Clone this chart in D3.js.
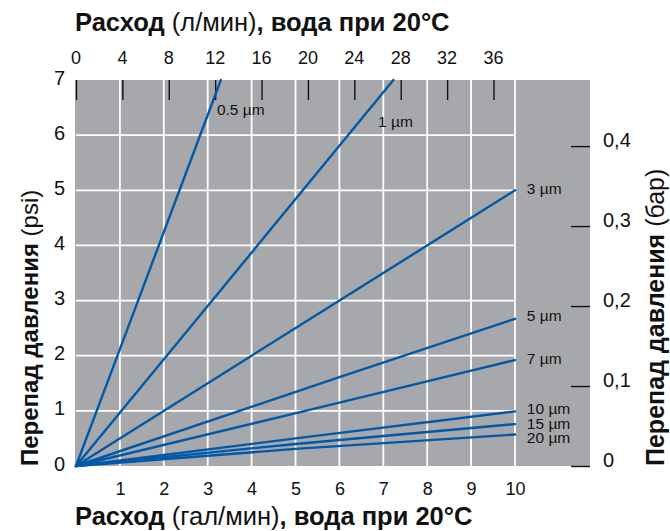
<!DOCTYPE html>
<html>
<head>
<meta charset="utf-8">
<script src="https://cdnjs.cloudflare.com/ajax/libs/d3/7.8.5/d3.min.js"></script>
<style>
  body { margin: 0; background: #fff; }
  text { font-family: "Liberation Sans", Arial, sans-serif; }
</style>
</head>
<body>
<svg id="canvas"></svg>
<script>
// data (flow in US gal/min, pressure drop in psi)
let ratings = ["0.5", "1", "3", "5", "7", "10", "15", "20"];
let curve05 = [[0, 0], [1, 2.12], [3.3, 7]];
let curve1 = [[0, 0], [3, 2.9], [7.23, 7]];
let curve3 = [[0, 0], [4, 2.0], [10, 5.0]];
let curve5 = [[0, 0], [6, 1.61], [10, 2.67]];
let curve7 = [[0, 0], [6, 1.15], [10, 1.92]];
let curve10 = [[0, 0], [5, 0.5], [10, 0.99]];
let curve15 = [[0, 0], [5, 0.4], [10, 0.76]];
let curve20 = [[0, 0], [5, 0.31], [10, 0.57]];
let curves = [curve05, curve1, curve3, curve5, curve7, curve10, curve15, curve20];

let galTicks = [1, 2, 3, 4, 5, 6, 7, 8, 9, 10];
let lpmTicks = [0, 4, 8, 12, 16, 20, 24, 28, 32, 36];
let psiTicks = [0, 1, 2, 3, 4, 5, 6, 7];
let barTicks = [0, 0.1, 0.2, 0.3, 0.4];

const GAL_TO_L = 3.78541;
const PSI_PER_BAR = 14.5038;

let width = 670;
let height = 531;

let canvas = d3.select('#canvas')
    .attr('width', width)
    .attr('height', height);

// scales
let xScale = d3.scaleLinear().domain([0, 10]).range([76, 515]);
let lpmScale = d3.scaleLinear().domain([0, 10 * GAL_TO_L]).range([76, 515]);
let yScale = d3.scaleLinear().domain([0, 7]).range([466, 80]);
let barScale = d3.scaleLinear().domain([0, 7 / PSI_PER_BAR]).range([466, 80]);

let plotRight = 590;

// gray background
canvas.append('rect')
    .attr('x', xScale(0) - 1)
    .attr('y', yScale(7))
    .attr('width', plotRight - xScale(0) + 1)
    .attr('height', yScale(0) - yScale(7))
    .attr('fill', '#a7a8ab');

// white grid
canvas.append('g').selectAll('line')
    .data(galTicks)
    .enter().append('line')
    .attr('x1', d => xScale(d)).attr('x2', d => xScale(d))
    .attr('y1', yScale(7)).attr('y2', yScale(0))
    .attr('stroke', '#fff').attr('stroke-width', 1.8);

canvas.append('g').selectAll('line')
    .data(psiTicks.filter(d => d > 0 && d < 7))
    .enter().append('line')
    .attr('x1', xScale(0)).attr('x2', xScale(10))
    .attr('y1', d => yScale(d)).attr('y2', d => yScale(d))
    .attr('stroke', '#fff').attr('stroke-width', 1.8);

// top axis (l/min), ticks inside the plot
let topAxis = d3.axisBottom(lpmScale).tickValues(lpmTicks).tickSize(20).tickFormat('');
let gTop = canvas.append('g')
    .attr('transform', `translate(0, ${yScale(7)})`)
    .call(topAxis);
gTop.select('.domain').remove();
gTop.selectAll('line').attr('stroke', '#111').attr('stroke-width', 1.4);

canvas.append('g').selectAll('text')
    .data(lpmTicks)
    .enter().append('text')
    .attr('x', d => lpmScale(d))
    .attr('y', 64)
    .attr('text-anchor', 'middle')
    .attr('font-size', 18)
    .attr('fill', '#111')
    .text(d => d);

// bottom axis (gal/min)
let gBottom = canvas.append('g')
    .attr('transform', `translate(0, ${yScale(0)})`)
    .call(d3.axisBottom(xScale).tickValues(galTicks).tickSize(0).tickPadding(16));
gBottom.select('.domain').remove();
gBottom.selectAll('text').attr('font-size', 18).attr('fill', '#111')
    .style('font-family', '"Liberation Sans", Arial, sans-serif');

// left axis (psi)
let gLeft = canvas.append('g')
    .attr('transform', `translate(${xScale(0)}, 0)`)
    .call(d3.axisLeft(yScale).tickValues(psiTicks).tickSize(0).tickPadding(11).tickFormat(d3.format('d')));
gLeft.select('.domain').remove();
gLeft.selectAll('text').attr('font-size', 20).attr('fill', '#111').attr('dy', '0.2em')
    .style('font-family', '"Liberation Sans", Arial, sans-serif');

// right axis (bar), ticks drawn inward from the right edge
let gRight = canvas.append('g')
    .attr('transform', `translate(${plotRight}, 0)`)
    .call(d3.axisLeft(barScale).tickValues(barTicks).tickSize(19).tickFormat(''));
gRight.select('.domain').remove();
gRight.selectAll('line').attr('stroke', '#111').attr('stroke-width', 1.4);

canvas.append('g').selectAll('text')
    .data(barTicks)
    .enter().append('text')
    .attr('x', 603)
    .attr('y', d => barScale(d) + 1)
    .attr('font-size', 20)
    .attr('fill', '#111')
    .text(d => d === 0 ? '0' : d3.format('.1f')(d).replace('.', ','));

// curves
let line = d3.line()
    .x(d => xScale(d[0]))
    .y(d => yScale(d[1]));

canvas.append('g').selectAll('path')
    .data(curves)
    .enter().append('path')
    .attr('d', line)
    .attr('fill', 'none')
    .attr('stroke', '#0059a8')
    .attr('stroke-width', 2.4)
    .attr('stroke-linecap', 'round');

// curve labels
let labelSpots = [[3.21, 6.46], [6.88, 6.24], [10.27, 5.04], [10.27, 2.73],
                  [10.27, 1.95], [10.27, 1.04], [10.27, 0.78], [10.27, 0.51]];
canvas.append('g').selectAll('text')
    .data(ratings)
    .enter().append('text')
    .attr('x', (d, i) => xScale(labelSpots[i][0]))
    .attr('y', (d, i) => yScale(labelSpots[i][1]))
    .attr('dy', '0.36em')
    .attr('font-size', 15.5)
    .attr('fill', '#111')
    .text(d => d + ' \u00b5m');

// axis titles
let titleTop = canvas.append('text')
    .attr('x', 75).attr('y', 31)
    .attr('font-size', 25.5).attr('fill', '#111');
titleTop.append('tspan').attr('font-weight', 'bold').text('Расход');
titleTop.append('tspan').text(' (л/мин)');
titleTop.append('tspan').attr('font-weight', 'bold').text(', вода при 20°C');

let titleBottom = canvas.append('text')
    .attr('x', 75).attr('y', 525)
    .attr('font-size', 25.5).attr('fill', '#111');
titleBottom.append('tspan').attr('font-weight', 'bold').text('Расход');
titleBottom.append('tspan').text(' (гал/мин)');
titleBottom.append('tspan').attr('font-weight', 'bold').text(', вода при 20°C');

let titleLeft = canvas.append('text')
    .attr('transform', 'translate(38, 466) rotate(-90)')
    .attr('font-size', 24).attr('fill', '#111');
titleLeft.append('tspan').attr('font-weight', 'bold').text('Перепад давления');
titleLeft.append('tspan').text(' (psi)');

let titleRight = canvas.append('text')
    .attr('transform', 'translate(664, 466) rotate(-90)')
    .attr('font-size', 25).attr('fill', '#111');
titleRight.append('tspan').attr('font-weight', 'bold').text('Перепад давления');
titleRight.append('tspan').text(' (бар)');
</script>
</body>
</html>
